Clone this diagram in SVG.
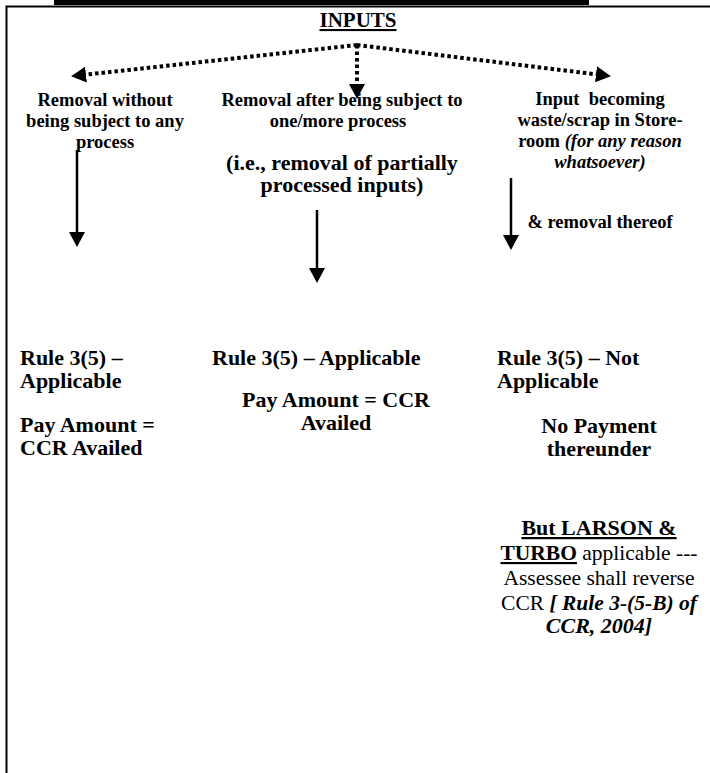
<svg xmlns="http://www.w3.org/2000/svg" width="710" height="773" viewBox="0 0 710 773">
  <style>
    text { font-family: "Liberation Serif", "Times New Roman", serif; fill: #000; }
    .hd { font-size: 18.5px; font-weight: bold; }
    .big { font-size: 22px; font-weight: bold; }
    .reg { font-size: 21.5px; font-weight: normal; }
    .mid { text-anchor: middle; }
    .it { font-style: italic; }
    .bi { font-style: italic; font-weight: bold; }
    .dot { fill: none; stroke: #000; stroke-width: 4; stroke-dasharray: 3.5 3; }
    .solid { fill: none; stroke: #000; stroke-width: 2.5; }
  </style>
  <defs>
    <marker id="head" viewBox="0 0 15 16" refX="0" refY="8" markerWidth="15" markerHeight="16" markerUnits="userSpaceOnUse" orient="auto">
      <path d="M0,0 L15,8 L0,16 z" fill="#000"/>
    </marker>
  </defs>

  <!-- page frame -->
  <rect x="54" y="0" width="535" height="5" fill="#000"/>
  <path d="M6.5,773 L6.5,6.5 L710,6.5" fill="none" stroke="#000" stroke-width="2"/>

  <g id="inputs">
    <text class="mid" x="358" y="27" style="font-size:21px;font-weight:bold" text-decoration="underline">INPUTS</text>
  </g>

  <g id="connectors">
    <path class="dot" d="M357,45 L86,74.6" marker-end="url(#head)"/>
    <path class="dot" d="M357,45 L596,74.3" marker-end="url(#head)"/>
    <path class="dot" d="M357,45 L357,84" marker-end="url(#head)"/>
    <path class="solid" d="M77,150 L77,232" marker-end="url(#head)"/>
    <path class="solid" d="M317,210 L317,268" marker-end="url(#head)"/>
    <path class="solid" d="M511,178 L511,235" marker-end="url(#head)"/>
  </g>

  <g id="removal-direct">
    <text class="hd mid" x="105" y="106">Removal without</text>
    <text class="hd mid" x="105" y="127">being subject to any</text>
    <text class="hd mid" x="105" y="148">process</text>
  </g>

  <g id="removal-processed">
    <text class="hd mid" x="342" y="106">Removal after being subject to</text>
    <text class="hd mid" x="338" y="127">one/more process</text>
    <text class="big mid" x="342" y="170">(i.e., removal of partially</text>
    <text class="big mid" x="342" y="192">processed inputs)</text>
  </g>

  <g id="waste-scrap">
    <text class="hd mid" x="600" y="105" xml:space="preserve">Input  becoming</text>
    <text class="hd mid" x="600" y="126">waste/scrap in Store-</text>
    <text class="hd mid" x="600" y="147">room <tspan class="it">(for any reason</tspan></text>
    <text class="hd mid it" x="600" y="168">whatsoever)</text>
    <text class="hd mid" x="600" y="228">&amp; removal thereof</text>
  </g>

  <g id="rule-col1">
    <text class="big" x="20" y="365">Rule 3(5) –</text>
    <text class="big" x="20" y="388">Applicable</text>
    <text class="big" x="20" y="432">Pay Amount =</text>
    <text class="big" x="20" y="455">CCR Availed</text>
  </g>

  <g id="rule-col2">
    <text class="big" x="212" y="365">Rule 3(5) – Applicable</text>
    <text class="big mid" x="336" y="407">Pay Amount = CCR</text>
    <text class="big mid" x="336" y="430">Availed</text>
  </g>

  <g id="rule-col3">
    <text class="big" x="497" y="365">Rule 3(5) – Not</text>
    <text class="big" x="497" y="388">Applicable</text>
    <text class="big mid" x="599" y="433">No Payment</text>
    <text class="big mid" x="599" y="456">thereunder</text>
  </g>

  <g id="larson-turbo">
    <text class="big mid" x="599" y="535" text-decoration="underline">But LARSON &amp;</text>
    <text class="reg mid" x="599" y="560"><tspan font-weight="bold" text-decoration="underline">TURBO</tspan> applicable ---</text>
    <text class="reg mid" x="599" y="585">Assessee shall reverse</text>
    <text class="reg mid" x="599" y="610">CCR <tspan class="bi">[ Rule 3-(5-B) of</tspan></text>
    <text class="big mid it" x="599" y="633">CCR, 2004]</text>
  </g>
</svg>
